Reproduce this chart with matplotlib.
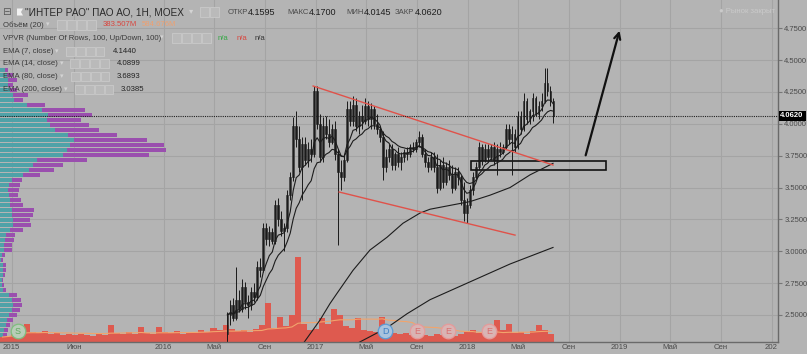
import numpy as np
import pandas as pd
import matplotlib
matplotlib.use("Agg")
import matplotlib.pyplot as plt
import matplotlib.transforms as mtransforms
from matplotlib.patches import Rectangle, Polygon

plt.rcParams['font.family'] = ['Liberation Sans', 'DejaVu Sans']

# weekly candles, Jun 2016 .. Jul 2018 (x in decimal years)
candle_first, candle_last = 2016.42, 2018.565
opens = [2.35, 2.50, 2.58, 2.48, 2.62, 2.55, 2.72, 2.60, 2.58, 2.68,
         2.64, 2.88, 2.85, 3.18, 3.10, 3.15, 3.08, 3.36, 3.25, 3.16,
         3.18, 3.44, 3.58, 3.98, 3.88, 3.66, 3.84, 3.72, 3.80, 3.76,
         4.26, 4.00, 3.74, 3.98, 3.92, 3.86, 3.96, 3.76, 3.62, 3.58,
         3.72, 4.12, 4.02, 4.15, 3.98, 4.06, 4.02, 4.14, 4.04, 4.12,
         4.00, 3.96, 3.90, 3.66, 3.74, 3.80, 3.68, 3.76, 3.70, 3.74,
         3.78, 3.76, 3.82, 3.80, 3.86, 3.90, 3.76, 3.70, 3.66, 3.74,
         3.66, 3.50, 3.68, 3.54, 3.66, 3.60, 3.50, 3.62, 3.58, 3.40,
         3.30, 3.36, 3.48, 3.58, 3.66, 3.82, 3.72, 3.80, 3.74, 3.82,
         3.72, 3.80, 3.78, 3.82, 3.96, 3.88, 3.92, 3.82, 4.06, 3.96,
         4.18, 4.04, 4.10, 4.20, 4.08, 4.14, 4.18, 4.32, 4.26, 4.18]
highs = [2.52, 2.62, 2.63, 2.88, 2.70, 2.78, 2.76, 2.66, 2.72, 2.75,
         2.92, 2.95, 3.22, 3.22, 3.20, 3.18, 3.40, 3.42, 3.32, 3.22,
         3.48, 3.62, 4.05, 4.10, 3.98, 3.90, 3.90, 3.86, 3.88, 4.30,
         4.30, 4.08, 4.05, 4.06, 4.04, 4.00, 4.02, 3.80, 3.72, 3.76,
         4.18, 4.18, 4.22, 4.20, 4.10, 4.15, 4.20, 4.18, 4.16, 4.14,
         4.08, 3.98, 3.94, 3.80, 3.84, 3.84, 3.78, 3.82, 3.78, 3.80,
         3.82, 3.84, 3.86, 3.88, 3.94, 3.92, 3.80, 3.74, 3.78, 3.78,
         3.76, 3.72, 3.74, 3.70, 3.72, 3.68, 3.66, 3.66, 3.60, 3.54,
         3.42, 3.52, 3.62, 3.70, 3.86, 3.84, 3.84, 3.84, 3.84, 3.86,
         3.84, 3.86, 3.84, 4.00, 4.00, 3.98, 3.96, 4.10, 4.10, 4.24,
         4.20, 4.12, 4.24, 4.22, 4.18, 4.24, 4.44, 4.44, 4.30, 4.20]
lows = [2.25, 2.42, 2.45, 2.46, 2.52, 2.52, 2.55, 2.48, 2.54, 2.60,
        2.62, 2.80, 2.84, 3.05, 3.04, 3.06, 3.06, 3.20, 3.12, 3.00,
        3.15, 3.40, 3.55, 3.82, 3.62, 3.40, 3.68, 3.66, 3.70, 3.74,
        3.96, 3.70, 3.70, 3.88, 3.82, 3.84, 3.72, 3.05, 3.48, 3.55,
        3.70, 3.98, 3.98, 3.94, 3.92, 3.96, 4.00, 3.98, 3.96, 3.96,
        3.92, 3.86, 3.56, 3.62, 3.70, 3.64, 3.64, 3.66, 3.64, 3.70,
        3.72, 3.74, 3.78, 3.78, 3.82, 3.74, 3.66, 3.62, 3.64, 3.62,
        3.46, 3.48, 3.50, 3.52, 3.56, 3.46, 3.48, 3.52, 3.36, 3.24,
        3.22, 3.34, 3.44, 3.56, 3.64, 3.68, 3.70, 3.70, 3.72, 3.68,
        3.60, 3.74, 3.76, 3.80, 3.84, 3.60, 3.78, 3.80, 3.92, 3.94,
        4.00, 4.00, 4.02, 4.06, 4.04, 4.10, 4.16, 4.22, 4.14, 4.01]
closes = [2.50, 2.58, 2.48, 2.62, 2.55, 2.72, 2.60, 2.58, 2.68, 2.64,
          2.88, 2.85, 3.18, 3.10, 3.15, 3.08, 3.36, 3.25, 3.16, 3.18,
          3.44, 3.58, 3.98, 3.88, 3.66, 3.84, 3.72, 3.80, 3.76, 4.26,
          4.00, 3.74, 3.98, 3.92, 3.86, 3.96, 3.76, 3.62, 3.58, 3.72,
          4.12, 4.02, 4.15, 3.98, 4.06, 4.02, 4.14, 4.04, 4.12, 4.00,
          3.96, 3.90, 3.66, 3.74, 3.80, 3.68, 3.76, 3.70, 3.74, 3.78,
          3.76, 3.82, 3.80, 3.86, 3.90, 3.76, 3.70, 3.66, 3.74, 3.66,
          3.50, 3.68, 3.54, 3.66, 3.60, 3.50, 3.62, 3.58, 3.40, 3.30,
          3.36, 3.48, 3.58, 3.66, 3.82, 3.72, 3.80, 3.74, 3.82, 3.72,
          3.80, 3.78, 3.82, 3.96, 3.88, 3.92, 3.82, 4.06, 3.96, 4.18,
          4.04, 4.10, 4.20, 4.08, 4.14, 4.18, 4.32, 4.26, 4.18, 4.062]

# slow EMAs (their history starts before the window)
ema80_t = [2016.897, 2017.029, 2017.095, 2017.141, 2017.246, 2017.358, 2017.470, 2017.575,
           2017.687, 2017.753, 2017.884, 2018.016, 2018.147, 2018.279, 2018.411, 2018.562]
ema80_v = [2.24, 2.46, 2.59, 2.67, 2.85, 3.01, 3.11, 3.22,
           3.30, 3.33, 3.36, 3.39, 3.44, 3.50, 3.60, 3.69]
ema200_t = [2017.230, 2017.470, 2017.602, 2017.753, 2018.016, 2018.279, 2018.562]
ema200_v = [2.25, 2.40, 2.51, 2.62, 2.76, 2.90, 3.03]

# volume, millions
vol_first, vol_last = 2014.94, 2018.55
volumes = [240, 290, 380, 430, 860, 480, 430, 530, 380, 430,
           340, 380, 340, 380, 340, 290, 380, 340, 820, 430,
           380, 480, 380, 720, 430, 380, 720, 480, 430, 530,
           380, 480, 430, 580, 480, 670, 580, 820, 620, 530,
           580, 480, 620, 820, 1870, 670, 1200, 770, 1300, 4080,
           860, 580, 620, 1150, 860, 1580, 1300, 770, 670, 1150,
           580, 530, 480, 1200, 580, 430, 380, 430, 340, 380,
           340, 290, 380, 340, 430, 290, 380, 480, 580, 430,
           480, 430, 1060, 580, 860, 430, 480, 380, 530, 820,
           580, 380]

# volume profile (VPVR), rows from the top level downwards
vp_top, vp_step = 4.423, 0.03925
vp_up = [5, 7, 8, 8, 10, 13, 14, 27, 42, 48, 47, 50, 55, 68, 74, 70, 67, 63, 37, 33,
         29, 23, 12, 9, 8, 9, 10, 10, 12, 12, 13, 13, 10, 6, 5, 4, 4, 2, 1, 3,
         3, 3, 2, 2, 3, 9, 12, 13, 12, 9, 7, 6, 4, 3, 3]
vp_down = [3, 6, 9, 5, 7, 15, 9, 18, 43, 44, 34, 39, 44, 49, 73, 94, 99, 86, 50, 30,
           25, 17, 10, 11, 11, 9, 11, 13, 22, 21, 17, 18, 13, 9, 9, 8, 8, 3, 2, 3,
           3, 2, 1, 2, 3, 8, 9, 9, 8, 8, 6, 4, 4, 4, 4]

tick_pos = [2015.0, 2015.414, 2016.0, 2016.331, 2016.667, 2017.0, 2017.329, 2017.666,
            2018.0, 2018.329, 2018.666, 2019.0, 2019.329, 2019.666, 2020.0]
tick_labels = ['2015', 'Июн', '2016', 'Май', 'Сен', '2017', 'Май', 'Сен',
               '2018', 'Май', 'Сен', '2019', 'Май', 'Сен', '202']
price_ticks = [2.5, 2.75, 3.0, 3.25, 3.5, 3.75, 4.0, 4.25, 4.5, 4.75]
last_price = 4.062

event_t = [2015.042, 2017.457, 2017.668, 2017.871, 2018.141]
event_lbl = ['S', 'D', 'E', 'E', 'E']

# hand drawings
upper_x, upper_y = [2016.984, 2018.562], [4.297, 3.677]
lower_x, lower_y = [2017.155, 2018.312], [3.465, 3.127]
box_x, box_y = [2018.023, 2018.911], [3.638, 3.708]
arrow_from, arrow_to = (2018.772, 3.732), (2019.004, 4.752)

W, H = 807, 354
BG = '#b4b4b4'
fig = plt.figure(figsize=(W / 100, H / 100), dpi=100, facecolor=BG)
rect = [0, 12 / H, 778 / W, 342 / H]
xlim = (2014.924, 2020.042)
ylim = (2.288, 4.972)

ax_bg = fig.add_axes(rect, zorder=0, facecolor=BG)
ax_bg.set_xlim(xlim)
ax_bg.set_ylim(ylim)
ax_bg.set_xticks(tick_pos)
ax_bg.set_yticks(price_ticks)
ax_bg.grid(True, color='#a4a4a4', lw=0.8)
ax_bg.tick_params(length=0, labelbottom=False, labelleft=False)
for s in ax_bg.spines.values():
    s.set_visible(False)

# volume profile
ax_vp = fig.add_axes(rect, zorder=1)
ax_vp.patch.set_visible(False)
ax_vp.axis('off')
ax_vp.set_xlim(0, 778)
ax_vp.set_ylim(ylim)
levels = vp_top - vp_step * np.arange(len(vp_up))
ax_vp.barh(levels, vp_up, height=vp_step * 0.82, color='#4fa2a8', linewidth=0)
ax_vp.barh(levels, vp_down, left=vp_up, height=vp_step * 0.82, color='#9a4fae', linewidth=0)

# volume
ax_vol = fig.add_axes(rect, zorder=2)
ax_vol.patch.set_visible(False)
ax_vol.axis('off')
vol_x = np.linspace(vol_first, vol_last, len(volumes))
ax_vol.bar(vol_x, volumes, width=vol_x[1] - vol_x[0], color='#de5a4f', linewidth=0)
vol_ma = pd.Series(volumes).rolling(20, min_periods=1).mean()
ax_vol.plot(vol_x, vol_ma, color='#f2a46c', lw=0.8)
ax_vol.set_xlim(xlim)
ax_vol.set_ylim(0, 16400)

# price
ax = fig.add_axes(rect, zorder=3)
ax.patch.set_visible(False)
ax.set_xlim(xlim)
ax.set_ylim(ylim)

cx = np.linspace(candle_first, candle_last, len(closes))
o = np.array(opens)
c = np.array(closes)
ax.vlines(cx, lows, highs, color='#1a1a1a', lw=0.7)
body = np.maximum(np.abs(c - o), 0.006)
ax.bar(cx, body, bottom=np.minimum(o, c), width=(cx[1] - cx[0]) * 0.6,
       color=['#6c6c6c' if u else '#262626' for u in c >= o],
       edgecolor='#1a1a1a', linewidth=0.4)

ema7 = pd.Series(closes).ewm(span=7, adjust=False).mean()
ema14 = pd.Series(closes).ewm(span=14, adjust=False).mean()
ax.plot(cx, ema7, color='#1c1c1c', lw=0.8)
ax.plot(cx, ema14, color='#1c1c1c', lw=0.8)
ax.plot(ema80_t, ema80_v, color='#1c1c1c', lw=0.8)
ax.plot(ema200_t, ema200_v, color='#1c1c1c', lw=0.8)

ax.plot(upper_x, upper_y, color='#e0524a', lw=1.0)
ax.plot(lower_x, lower_y, color='#e0524a', lw=1.0)
ax.add_patch(Rectangle((box_x[0], box_y[0]), box_x[1] - box_x[0], box_y[1] - box_y[0],
                       fill=False, edgecolor='#111111', lw=1.2))
ax.annotate('', xy=arrow_to, xytext=arrow_from,
            arrowprops=dict(arrowstyle='->', lw=1.6, color='#111111', mutation_scale=11))

ax.axhline(last_price, color='#222222', ls=(0, (1, 1)), lw=0.8)

trans = mtransforms.blended_transform_factory(ax.transData, ax.transAxes)
ev_style = {'S': ('#b8cdb8', '#7fbf7f', '#5faa5f'),
            'D': ('#a9c3dd', '#5b9bd5', '#3d7fc4'),
            'E': ('#d9b4b4', '#e69a9a', '#d97070')}
for t, lbl in zip(event_t, event_lbl):
    fc, ec, tc = ev_style[lbl]
    ax.plot([t], [0.032], 'o', ms=10.5, mfc=fc, mec=ec, mew=0.9, transform=trans, clip_on=False)
    ax.text(t, 0.032, lbl, transform=trans, ha='center', va='center', fontsize=6.5, color=tc)

ax.set_xticks(tick_pos)
ax.set_xticklabels(tick_labels)
ax.set_yticks(price_ticks)
ax.set_yticklabels([f'{v:.4f}' for v in price_ticks])
ax.yaxis.tick_right()
ax.tick_params(axis='y', length=3, color='#777777', labelcolor='#4a4a4a', labelsize=5.5, pad=1.5)
ax.tick_params(axis='x', length=0, labelcolor='#4a4a4a', labelsize=5.6, pad=1.5)
for side in ('top', 'left'):
    ax.spines[side].set_visible(False)
for side in ('right', 'bottom'):
    ax.spines[side].set_color('#6a6a6a')
    ax.spines[side].set_linewidth(1.0)

ptrans = mtransforms.blended_transform_factory(ax.transAxes, ax.transData)
ax.text(1.003, last_price, '4.0620', transform=ptrans, ha='left', va='center',
        color='white', fontsize=5.5, fontweight='bold',
        bbox=dict(facecolor='black', edgecolor='none', pad=1.3))


# legend / header texts in pixel positions
def ftext(x, y, s, size=5.6, color='#3a3a3a', ha='left'):
    fig.text(x / W, 1 - y / H, s, ha=ha, va='center', fontsize=size, color=color)


def icons(x0, y, n):
    for k in range(n):
        fig.add_artist(Rectangle(((x0 + 10 * k) / W, 1 - (y + 4.5) / H), 8.5 / W, 9 / H,
                                 transform=fig.transFigure, facecolor='#bababa',
                                 edgecolor='#c9c9c9', lw=0.6))


ftext(2.5, 12, '⊟', size=7.5, color='#5a5a5a')
fig.add_artist(Polygon([(17 / W, 1 - 8.5 / H), (23 / W, 1 - 8.5 / H), (21 / W, 1 - 12 / H),
                        (23 / W, 1 - 15.5 / H), (17 / W, 1 - 15.5 / H)],
                       closed=True, transform=fig.transFigure, facecolor='#f2f2f2', edgecolor='none'))
ftext(25, 12.5, '"ИНТЕР РАО" ПАО АО, 1H, MOEX', size=7.2, color='#2a2a2a')
ftext(189, 12, '▾', size=6, color='#d4d4d4')
icons(200, 12, 2)
header = [('ОТКР', 248, '4.1595'), ('МАКС', 309, '4.1700'),
          ('МИН', 364, '4.0145'), ('ЗАКР', 415, '4.0620')]
for lab, xv, val in header:
    ftext(xv - 0.5, 12.5, lab, size=5.6, color='#4a4a4a', ha='right')
    ftext(xv, 12.5, val, size=6.5, color='#1e1e1e')
ftext(719, 11.5, '● Рынок закрыт', size=5.6, color='#cacaca')

rows = [(25, 'Объём (20)', 46, 57),
        (38, 'VPVR (Number Of Rows, 100, Up/Down, 100)', 160, 172),
        (51.5, 'EMA (7, close)', 55, 66),
        (63.5, 'EMA (14, close)', 60, 70),
        (76.5, 'EMA (80, close)', 60, 71),
        (89.5, 'EMA (200, close)', 64, 75)]
for y, label, caret_x, icon_x in rows:
    ftext(3, y, label)
    ftext(caret_x, y, '▾', size=5, color='#d4d4d4')
    icons(icon_x, y, 4)

ftext(103, 25, '383.507M', color='#d8453d')
ftext(142, 25, '584.676M', color='#eea070')
ftext(218, 38, 'n/a', color='#35a845')
ftext(237, 38, 'n/a', color='#d8453d')
ftext(255, 38, 'n/a', color='#333333')
ftext(113, 51.5, '4.1440', color='#222222')
ftext(117, 63.5, '4.0899', color='#222222')
ftext(117, 76.5, '3.6893', color='#222222')
ftext(121, 89.5, '3.0385', color='#222222')

fig.savefig('out.png', dpi=100, facecolor=BG)
